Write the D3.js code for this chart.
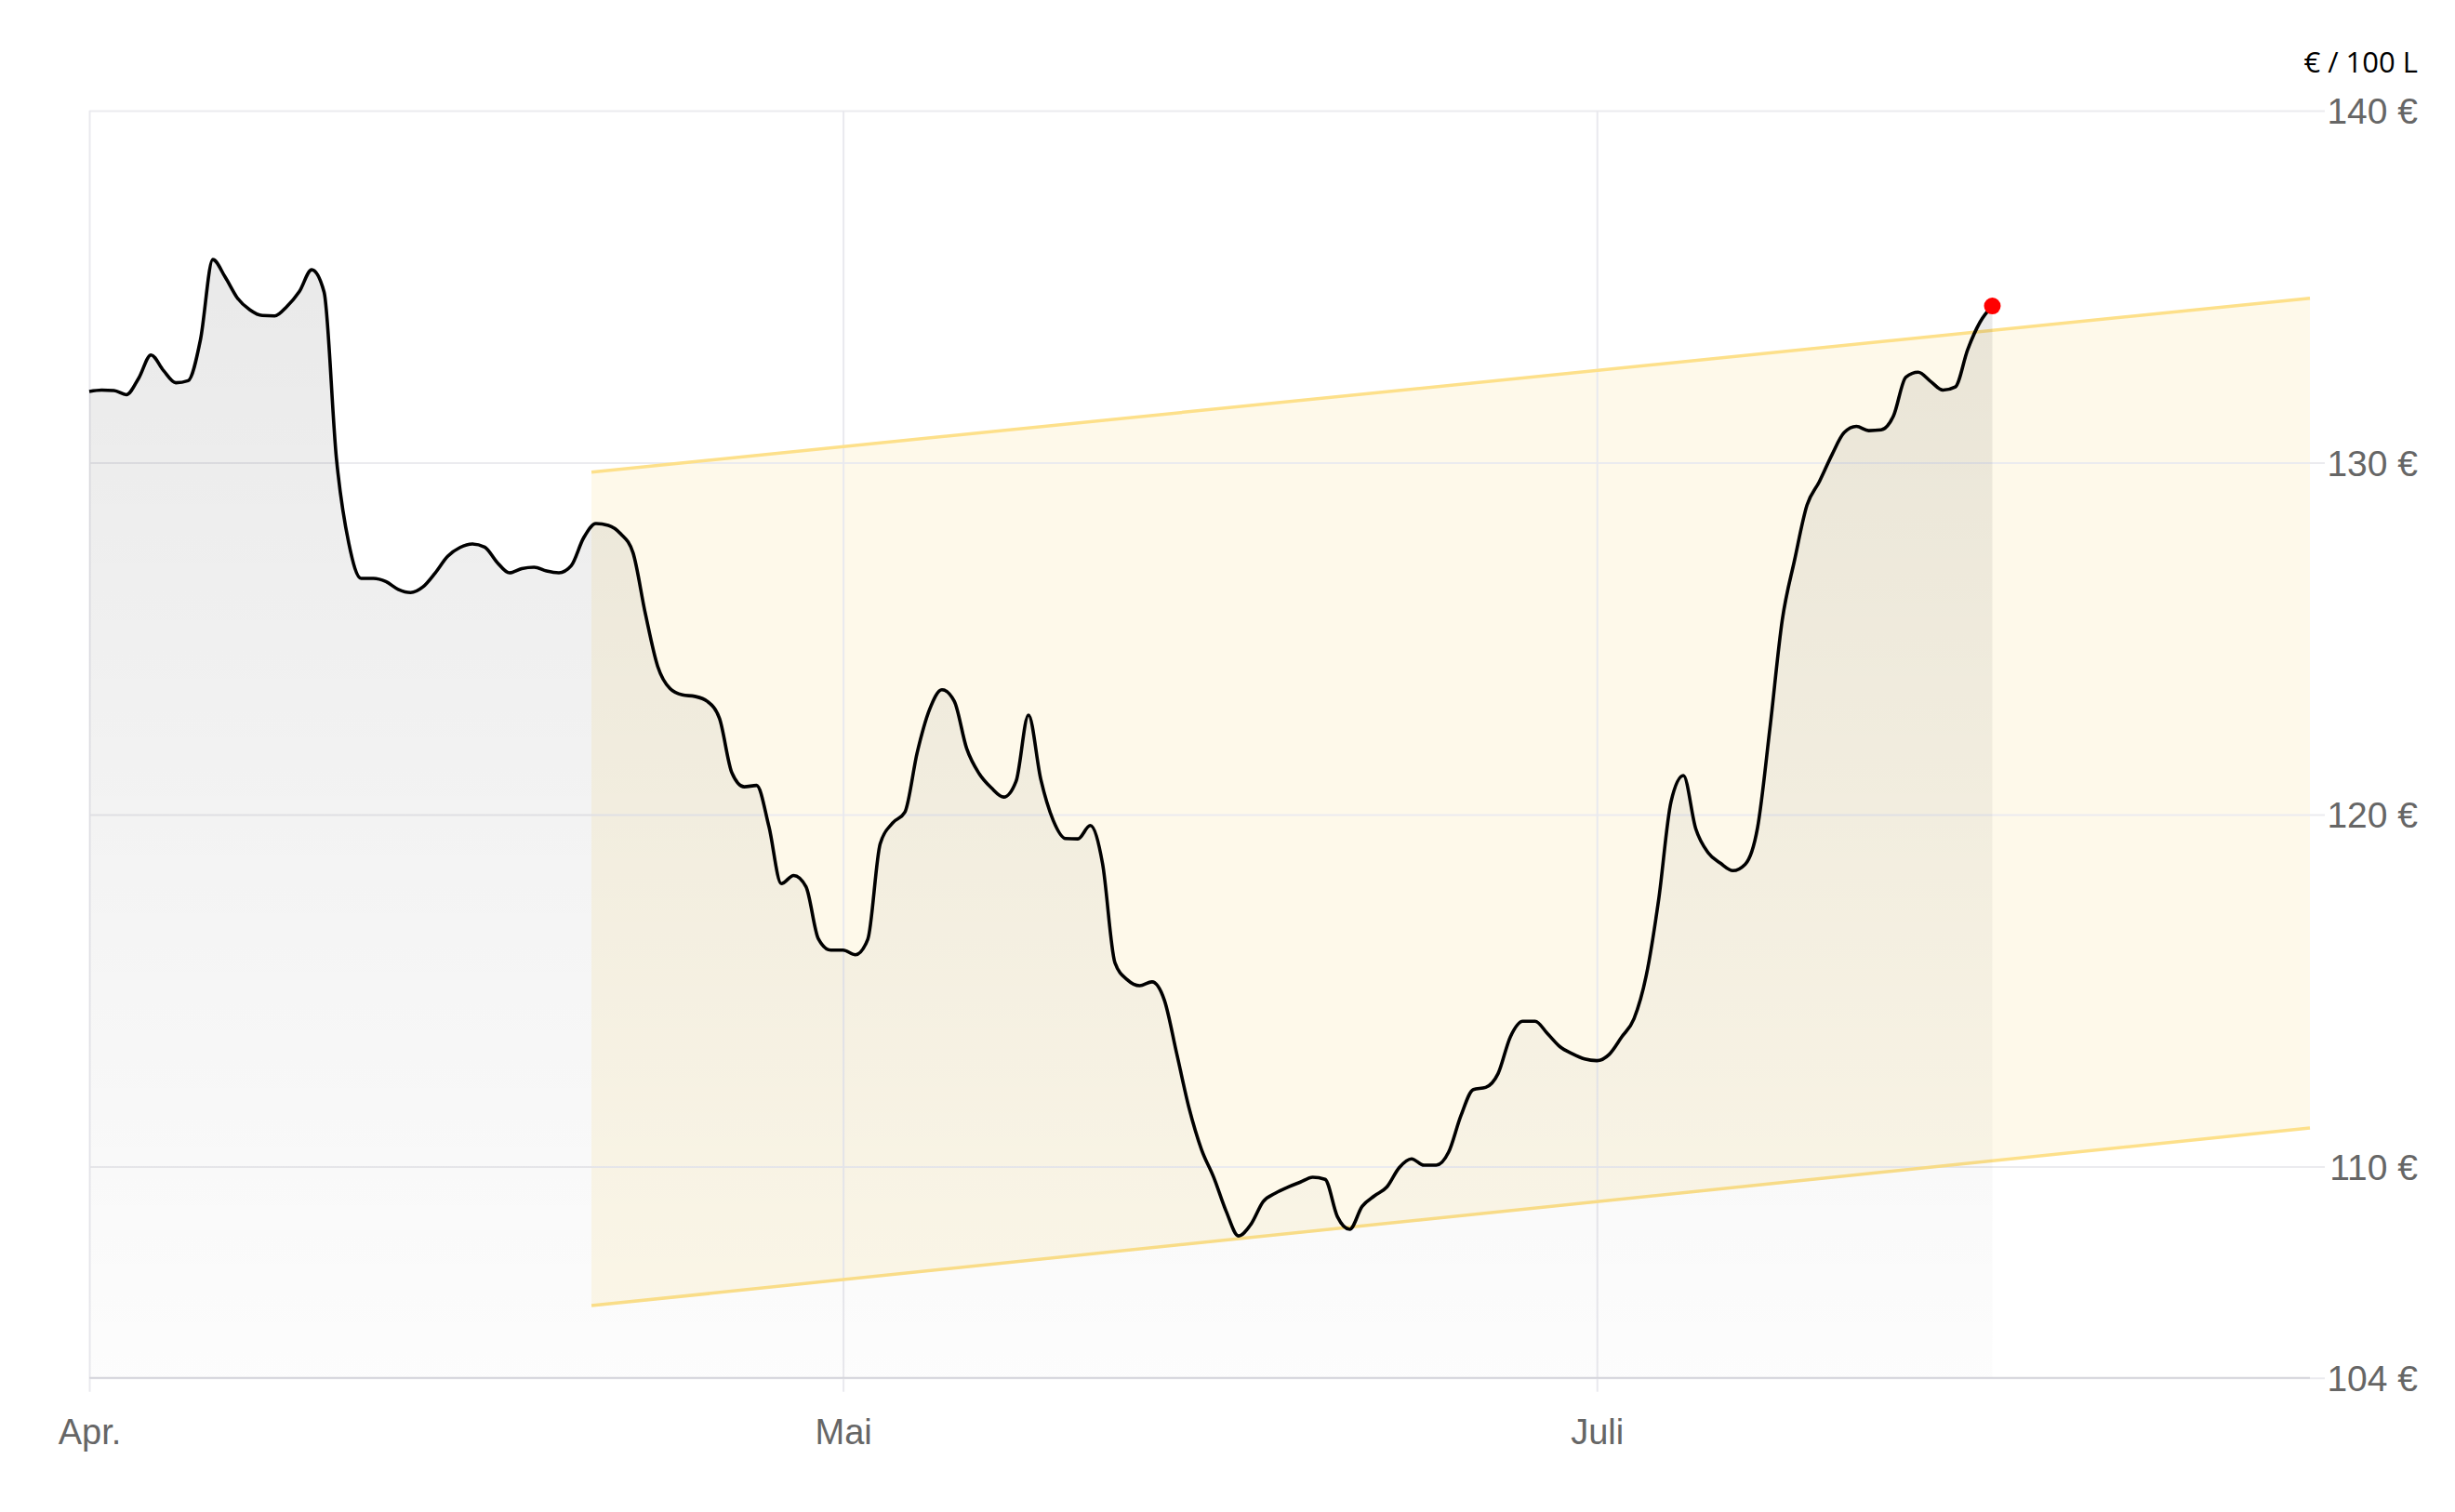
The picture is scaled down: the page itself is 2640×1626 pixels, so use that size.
<!DOCTYPE html>
<html>
<head>
<meta charset="utf-8">
<script src="https://cdn.jsdelivr.net/npm/d3@7"></script>
<style>
    html, body { margin: 0; padding: 0; background: #ffffff; }
    svg { display: block; }
</style>
</head>
<body>
<svg id="chart"></svg>
<script>
// daily price in € per 100 L, day 0 = start of April
const prices = [
    132.02, 132.06, 132.05, 131.93, 132.40, 133.06, 132.62, 132.27, 132.33, 133.50,
    135.77, 135.27, 134.67, 134.34, 134.18, 134.17, 134.44, 134.86, 135.48, 134.85,
    130.12, 127.71, 126.71, 126.71, 126.62, 126.40, 126.31, 126.47, 126.87, 127.34,
    127.59, 127.69, 127.60, 127.17, 126.87, 126.99, 127.03, 126.92, 126.87, 127.07,
    127.86, 128.27, 128.22, 127.98, 127.44, 125.71, 124.21, 123.58, 123.40, 123.36,
    123.22, 122.73, 121.19, 120.79, 120.83, 119.66, 118.04, 118.27, 117.95, 116.47,
    116.15, 116.15, 116.02, 116.46, 119.17, 119.76, 120.07, 121.77, 122.99, 123.55,
    123.22, 121.88, 121.17, 120.76, 120.50, 120.95, 122.83, 121.00, 119.84, 119.32,
    119.31, 119.69, 118.60, 115.79, 115.31, 115.14, 115.25, 114.73, 113.21, 111.66,
    110.49, 109.69, 108.73, 108.03, 108.36, 109.01, 109.25, 109.42, 109.56, 109.70,
    109.64, 108.58, 108.22, 108.87, 109.17, 109.42, 109.97, 110.22, 110.04, 110.04,
    110.41, 111.45, 112.19, 112.25, 112.64, 113.69, 114.13, 114.13, 113.78, 113.41,
    113.21, 113.06, 113.01, 113.19, 113.68, 114.20, 115.44, 117.59, 120.37, 121.11,
    119.60, 118.92, 118.62, 118.41, 118.59, 119.63, 122.45, 125.53, 127.24, 128.79,
    129.46, 130.21, 130.85, 131.03, 130.91, 130.93, 131.33, 132.43, 132.57, 132.31,
    132.06, 132.15, 133.21, 133.99, 134.45
];

const monthTickDays = [0, 61, 122];
const monthLabels = ["Apr.", "Mai", "Juli"];
const yTicks = [104, 110, 120, 130, 140];

// forecast channel: start / end day with upper and lower bound
const channelDays = [40.64, 179.7];
const channelUpper = [129.73, 134.67];
const channelLower = [106.05, 111.1];

const unitLabel = "€ / 100 L";

class PriceChart {

    constructor(_config, _data) {
        this.config = {
            parentElement: _config.parentElement,
            containerWidth: _config.containerWidth || 2640,
            containerHeight: _config.containerHeight || 1626,
            margin: { top: 119, bottom: 144.3, right: 156, left: 96 }
        }
        this.data = _data;

        this.initVis();
    }

    initVis() {
        let vis = this;

        vis.width = vis.config.containerWidth - vis.config.margin.left - vis.config.margin.right;
        vis.height = vis.config.containerHeight - vis.config.margin.top - vis.config.margin.bottom;

        vis.svg = d3.select(vis.config.parentElement)
            .attr('width', vis.config.containerWidth)
            .attr('height', vis.config.containerHeight)
            .style("font-family", "'Liberation Sans', Arial, sans-serif");

        // gradient for the area under the price line
        let grad = vis.svg.append("defs").append("linearGradient")
            .attr("id", "areaGrad")
            .attr("x1", 0).attr("y1", 0)
            .attr("x2", 0).attr("y2", 1);
        grad.append("stop").attr("offset", "0%").attr("stop-color", "#000").attr("stop-opacity", 0.085);
        grad.append("stop").attr("offset", "100%").attr("stop-color", "#000").attr("stop-opacity", 0.01);

        vis.g = vis.svg.append("g")
            .attr("transform", "translate(" + vis.config.margin.left + "," + vis.config.margin.top + ")");

        vis.xScale = d3.scaleLinear()
            .domain([0, channelDays[1]])
            .range([0, vis.width]);
        vis.yScale = d3.scaleLinear()
            .domain([104, 140])
            .range([vis.height, 0]);

        let points = vis.data.map((v, i) => ({ day: i, value: v }));
        let channel = channelDays.map((d, i) => ({ day: d, upper: channelUpper[i], lower: channelLower[i] }));

        // channel fill
        vis.g.append("path")
            .datum(channel)
            .attr("fill", "#fef9ea")
            .attr("d", d3.area()
                .x(d => vis.xScale(d.day))
                .y0(d => vis.yScale(d.lower))
                .y1(d => vis.yScale(d.upper)));

        // horizontal grid + y labels (right aligned at x = 2600)
        let yAxis = vis.g.append("g")
            .call(d3.axisRight(vis.yScale)
                .tickValues(yTicks)
                .tickSize(vis.width + 16)
                .tickFormat(d => d + " €"));
        yAxis.select(".domain").remove();
        yAxis.selectAll("line")
            .attr("stroke", "#ebebef")
            .attr("stroke-width", 2);
        yAxis.selectAll("text")
            .attr("x", vis.width + 116)
            .attr("dy", "0.35em")
            .attr("text-anchor", "end")
            .style("font-family", "'Liberation Sans', Arial, sans-serif")
            .style("font-size", "39px")
            .style("fill", "#666666");

        // vertical grid + month labels
        let xAxis = vis.g.append("g")
            .attr("transform", "translate(0," + vis.height + ")")
            .call(d3.axisBottom(vis.xScale)
                .tickValues(monthTickDays)
                .tickFormat((d, i) => monthLabels[i]));
        xAxis.select(".domain").remove();
        xAxis.selectAll("line")
            .attr("y1", -vis.height)
            .attr("y2", 15)
            .attr("stroke", "#e9e9ee")
            .attr("stroke-width", 2);
        xAxis.selectAll("text")
            .attr("y", 71.5)
            .attr("dy", 0)
            .style("font-family", "'Liberation Sans', Arial, sans-serif")
            .style("font-size", "38px")
            .style("fill", "#666666");

        // channel borders
        ["upper", "lower"].forEach(function(key) {
            vis.g.append("path")
                .datum(channel)
                .attr("fill", "none")
                .attr("stroke", "#fde08a")
                .attr("stroke-width", 3.5)
                .attr("d", d3.line()
                    .x(d => vis.xScale(d.day))
                    .y(d => vis.yScale(d[key])));
        });

        // area under the line
        vis.g.append("path")
            .datum(points)
            .attr("fill", "url(#areaGrad)")
            .attr("d", d3.area()
                .curve(d3.curveMonotoneX)
                .x(d => vis.xScale(d.day))
                .y0(vis.yScale(104))
                .y1(d => vis.yScale(d.value)));

        // bottom axis line
        vis.g.append("line")
            .attr("x1", 0)
            .attr("x2", vis.width)
            .attr("y1", vis.height)
            .attr("y2", vis.height)
            .attr("stroke", "#d5d5db")
            .attr("stroke-width", 2);

        vis.g.append("path")
            .datum(points)
            .attr("fill", "none")
            .attr("stroke", "#000000")
            .attr("stroke-width", 3.6)
            .attr("stroke-linejoin", "round")
            .attr("d", d3.line()
                .curve(d3.curveMonotoneX)
                .x(d => vis.xScale(d.day))
                .y(d => vis.yScale(d.value)));

        let last = points[points.length - 1];
        vis.g.append("circle")
            .attr("cx", vis.xScale(last.day))
            .attr("cy", vis.yScale(last.value))
            .attr("r", 9)
            .attr("fill", "#ff0000");

        // unit label
        vis.svg.append("text")
            .attr("x", 2600)
            .attr("y", 78)
            .attr("text-anchor", "end")
            .style("font-family", "'Open Sans', 'Noto Sans', sans-serif")
            .style("font-size", "31px")
            .style("fill", "#000000")
            .text(unitLabel);
    }
}

new PriceChart({ parentElement: "#chart", containerWidth: 2640, containerHeight: 1626 }, prices);
</script>
</body>
</html>
